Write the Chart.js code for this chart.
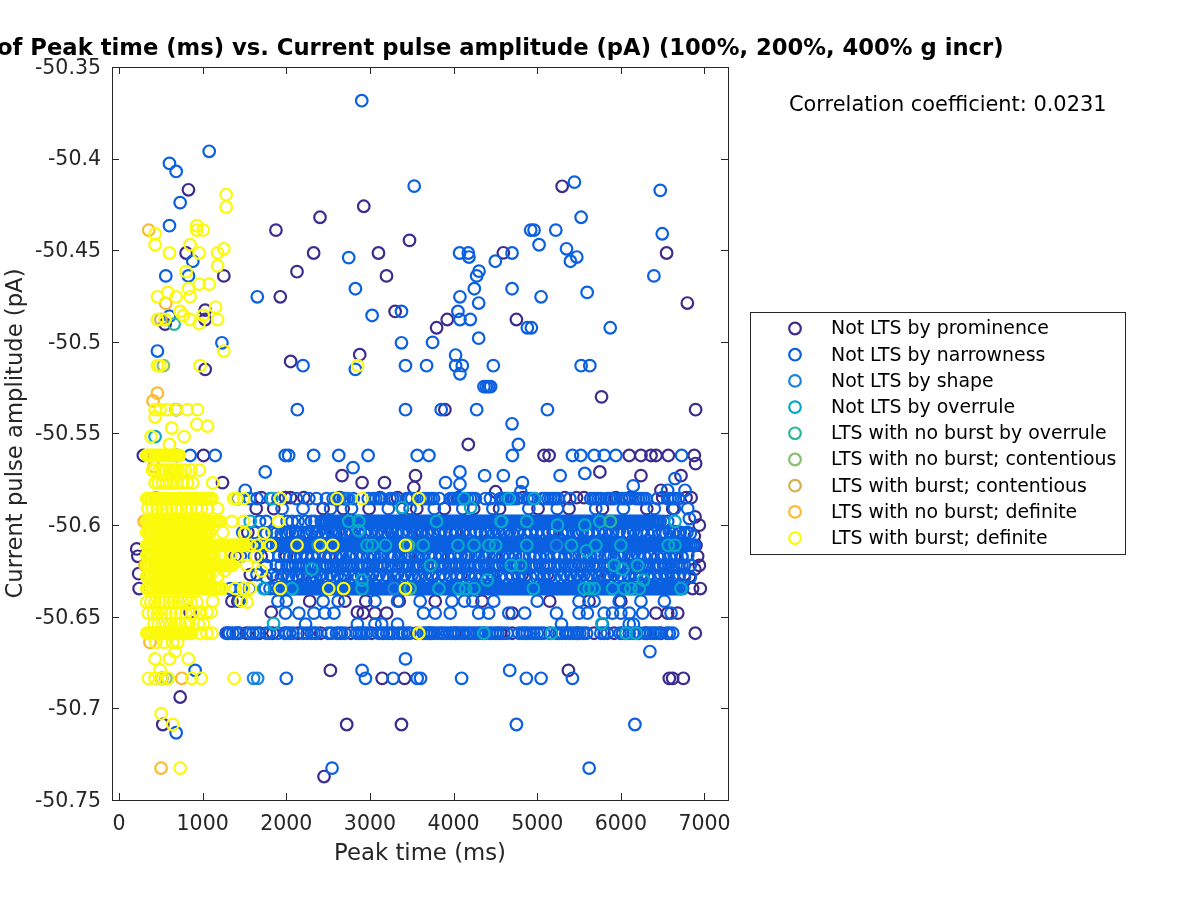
<!DOCTYPE html>
<html>
<head>
<meta charset="utf-8">
<title>Peak time vs. current pulse amplitude</title>
<script src="https://cdn.jsdelivr.net/npm/chart.js@4/dist/chart.umd.min.js"></script>
<style>
html, body { margin: 0; padding: 0; background: #fff; }
#wrap { width: 1200px; height: 900px; }
</style>
</head>
<body>
<div id="wrap"><canvas id="chart" width="1200" height="900"></canvas></div>
<script>
const titleText = 'of Peak time (ms) vs. Current pulse amplitude (pA) (100%, 200%, 400% g incr)';
const corrText = 'Correlation coefficient: 0.0231';
const xLabel = 'Peak time (ms)';
const yLabel = 'Current pulse amplitude (pA)';
const xTicks = [0, 1000, 2000, 3000, 4000, 5000, 6000, 7000];
const yTicks = [-50.75, -50.7, -50.65, -50.6, -50.55, -50.5, -50.45, -50.4, -50.35];

const seriesNames = [
    'Not LTS by prominence', 'Not LTS by narrowness', 'Not LTS by shape', 'Not LTS by overrule',
    'LTS with no burst by overrule', 'LTS with no burst; contentious', 'LTS with burst; contentious',
    'LTS with no burst; definite', 'LTS with burst; definite'
];
const seriesColors = [
    '#3d2c8e', '#0a60e0', '#1a84dc', '#08a8c8', '#2cb59c', '#86bf70', '#d4b050', '#fdb92f', '#fafa0a'
];

// ---- Not LTS by prominence ----
const promLoose = [
    [830,-50.417],[2926,-50.426],[2403,-50.432],[1876,-50.439],[3473,-50.4446],[2327,-50.4515],[802,-50.4515],
    [3102,-50.4515],[2128,-50.4617],[1253,-50.464],[3198,-50.464],[1928,-50.4754],[3301,-50.4834],[1030,-50.4827],
    [1030,-50.4878],[551,-50.4903],[2052,-50.5107],[2878,-50.507],[1030,-50.515],[683,-50.537],[5298,-50.4151],
    [4595,-50.4514],[6547,-50.4515],[6795,-50.4788],[4751,-50.4878],[3924,-50.4878],[3797,-50.4923],[5769,-50.53],
    [3896,-50.537],[6894,-50.537],[4176,-50.556],[2527,-50.6793],[731,-50.6938],[523,-50.7088],[2722,-50.7088],
    [3377,-50.7088],[2451,-50.7372],[5373,-50.6793],[6894,-50.5664],[2666,-50.573],[2906,-50.5768],[3174,-50.5768],
    [3545,-50.573],[1237,-50.5768],[3525,-50.5795],[5749,-50.571],[6240,-50.573],[6719,-50.573],[6479,-50.581],
    [4503,-50.5818],[6887,-50.5955],[6938,-50.6],[6878,-50.606],[6898,-50.611],[6918,-50.617],[6938,-50.622],
    [6950,-50.6346],[6858,-50.6346],[6820,-50.628],[6885,-50.624],[212,-50.613],[225,-50.617],[235,-50.6265],
    [240,-50.6346],[850,-50.6475],[1420,-50.6415],[1820,-50.6475],[2700,-50.6415],[2850,-50.6475]
];
const prom562 = [291,690,1010,5082,5142,6100,6240,6360,6420,6567,6878];
const prom585 = [1700,1990,2050,2210,2640,3120,3330,4060,4830,5330,5470,5560,5940,6110,6500,6780,6840];
const prom591 = [1640,1850,2440,2680,2990,3390,3560,3890,4240,4550,5010,5380,5780,6310,6620];
const prom604 = [1540,2110,2360,2590,2880,3260,3620,4020,4320,4780,5190,5610,5900,6250,6700];
const prom617 = [1390,1700,2000,2240,2510,2770,3120,3470,3840,4150,4490,4910,5260,5580,5990,6350,6640];
const prom627 = [1570,1840,2190,2420,2690,3030,3330,3740,4090,4460,4820,5120,5480,5850,6170,6530,6760];
const prom641 = [1350,2280,2950,3350,3780,4340,5150,5620,6000];
const prom648 = [2920,3060,3200,4700,6420,6560,6680];
const prom659 = [1300,1420,1520,1680,1840,2140,2410,2770,3020,3280,3560,3720,4020,4560,4700,5150,5480,5680,5920,6300,6480,6890];
const prom684 = [511,3146,3413,6579,6619,6747];

// ---- Not LTS by narrowness ----
const narrowLoose = [
    [2902,-50.3684],[1078,-50.396],[603,-50.4026],[683,-50.407],[731,-50.424],[603,-50.4366],[3529,-50.415],
    [2746,-50.454],[882,-50.456],[559,-50.464],[830,-50.464],[2826,-50.471],[1653,-50.4754],[3026,-50.4856],
    [3377,-50.4834],[3377,-50.5005],[1230,-50.5005],[459,-50.505],[2200,-50.513],[3425,-50.513],[2826,-50.515],
    [2132,-50.537],[3425,-50.537],[603,-50.486],[5445,-50.4128],[6471,-50.4173],[5525,-50.432],[4962,-50.439],
    [4922,-50.439],[5222,-50.439],[6495,-50.441],[5022,-50.447],[5350,-50.4492],[5473,-50.4537],[5397,-50.456],
    [4072,-50.4515],[4176,-50.4515],[4184,-50.4537],[4699,-50.4515],[4499,-50.456],[4304,-50.4614],[4276,-50.464],
    [6395,-50.464],[4248,-50.471],[4699,-50.471],[4076,-50.4754],[5046,-50.4754],[5597,-50.473],[4300,-50.4788],
    [4052,-50.4834],[4076,-50.4878],[4200,-50.4878],[4882,-50.4923],[4930,-50.4923],[5873,-50.4923],[3749,-50.5003],
    [4300,-50.498],[4024,-50.5072],[3677,-50.513],[4024,-50.513],[4104,-50.513],[4475,-50.513],[5525,-50.513],
    [5629,-50.513],[4076,-50.5174],[4363,-50.5244],[4391,-50.5244],[4419,-50.5244],[4443,-50.5244],[3852,-50.537],
    [4276,-50.537],[5122,-50.537],[4699,-50.5447],[4775,-50.556],[3425,-50.673],[2906,-50.6793],[910,-50.6793],
    [683,-50.7133],[2547,-50.7326],[6347,-50.669],[4671,-50.6793],[4751,-50.7088],[6168,-50.7088],[5621,-50.7326],
    [1748,-50.571],[2798,-50.5686],[1509,-50.581],[4076,-50.571],[3904,-50.5768],[4076,-50.5777],[4371,-50.573],
    [4595,-50.573],[4823,-50.5768],[5274,-50.573],[5569,-50.5718],[6148,-50.5786],[6647,-50.5746],[6559,-50.581],
    [6767,-50.581],[4803,-50.5818],[6819,-50.5964]
];
const narrow562 = [850,1150,1988,2028,2327,2627,2978,3565,3705,4703,5421,5521,5681,5801,5940,6727];
const narrow585 = [1420,1560,1650,1810,1900,2120,2270,2360,2480,2560,2610,2680,2730,2800,2980,3040,3110,3240,3300,3440,3500,3640,3700,3760,3830,3960,4010,4070,4130,4200,4260,4380,4440,4560,4620,4690,4760,4880,4940,5060,5130,5190,5250,5390,5640,5700,5760,5830,5890,6010,6070,6180,6240,6300,6440,6560,6620,6690];
const narrow585b = [2590,2640,2700,3070,3140,3270,3470,3670,3730,3990,4040,4100,4165,4230,4590,4650,4720,4910,4970,5090,5160,5220,5670,5730,5860,5920,6040,6100,6210,6270,6590,6650];
const narrow591 = [1950,2200,2530,2780,3220,3480,3770,4110,4470,4900,5240,5700,6030,6400,6640,6800];
// dense x positions shared by the solid bands
const narrowCore = [1905,1930,1952,1978,2003,2026,2050,2077,2100,2124,2150,2173,2199,2224,2246,2272,2298,2320,2346,2370,2395,2418,2444,2468,2490,2517,2541,2565,2592,2614,2640,2663,2688,2714,2736,2762,2786,2810,2835,2860,2882,2908,2932,2956,2982,3005,3030,3054,3078,3103,3126,3152,3176,3200,3226,3248,3274,3298,3322,3347,3370,3396,3420,3444,3470,3492,3518,3542,3566,3591,3614,3640,3664,3688,3713,3736,3762,3786,3810,3835,3858,3884,3908,3932,3957,3980,4006,4030,4054,4079,4102,4128,4152,4176,4201,4224,4250,4274,4298,4323,4346,4372,4396,4420,4445,4468,4494,4518,4542,4567,4590,4616,4640,4664,4689,4712,4738,4762,4786,4811,4834,4860,4884,4908,4933,4956,4982,5006,5030,5055,5078,5104,5128,5152,5177,5200,5226,5250,5274,5299,5322,5348,5372,5396,5421,5444,5470,5494,5518,5543,5566,5592,5616,5640,5665,5688,5714,5738,5762,5787,5810,5836,5860,5884,5909,5932,5958,5982,6006,6031,6054,6080,6104,6128,6153,6176,6202,6226,6250,6275,6298,6324,6348,6372,6397,6420,6446,6470,6494,6519,6542,6568,6592,6616,6641,6664,6690,6714,6738,6763,6786,6812,6836,6860,6880];
const narrow598 = [1680,1760,2010,2070,2140,2230,2300,2340,6510,6560];
const narrow604 = [1480,1620,1830,1990,2240,2470,2700,2950,3180,3400,3560,3700,3960,4200,4380,4600,4850,5070,5300,5470,5660,5820,6080,6320,6500,6710,6790];
const narrow604b = [2040,2120,2310,2390,2540,2620,2770,2860,3020,3100,3250,3330,3470,3630,3770,3850,3900,4040,4120,4270,4450,4530,4670,4760,4920,5000,5140,5220,5370,5540,5600,5730,5900,5980,6150,6240,6400,6580,6650];
const narrow611 = [1540,1610,1700,1755,1835,1885];
const narrow617 = [1450,1620,1780,1910,2090,2310,2590,2840,3060,3290,3540,3780,3930,4260,4580,4840,5040,5340,5640,5810,6120,6440,6730];
const narrow617b = [1980,2170,2240,2390,2470,2660,2760,2920,3000,3140,3220,3370,3450,3620,3700,3860,4010,4090,4180,4340,4420,4510,4650,4740,4910,4980,5120,5200,5270,5420,5500,5570,5720,5880,5960,6040,6200,6280,6360,6520,6600,6670,6800];
const narrow622 = [1760,1880,1940,2010,2070,2150,2210,2280,2350,2430,2490,2560,2640,2710,2790,2860,2930,3000,3080,3150,3220,3310,3380,3450,3530,3600,3680,3750,3820,3900,3970,4040,4110,4190,4260,4330,4410,4480,4550,4630,4700,4770,4850,4920,4990,5070,5140,5210,5290,5360,5440,5510,5590,5660,5740,5810,5880,5960,6030,6100,6180,6250,6320,6400,6470,6540,6620,6690,6760,6830];
const narrow622b = [2040,2110,2180,2250,2320,2460,2530,2600,2680,2750,2900,2970,3040,3120,3260,3340,3420,3570,3640,3720,3860,3940,4010,4080,4160,4300,4370,4520,4590,4670,4740,4820,4960,5030,5110,5250,5330,5400,5550,5620,5700,5850,5920,5990,6140,6220,6290,6440,6510,6580,6660,6730];
const narrow627 = [1650,1960,2250,2530,2820,3110,3420,3660,3880,4180,4400,4700,5000,5320,5560,5920,6240,6480,6700];
const narrow627b = [2030,2120,2320,2400,2610,2700,2900,2980,3200,3290,3500,3580,3740,3960,4040,4260,4340,4480,4570,4780,4860,5080,5160,5400,5480,5640,5740,5830,6000,6090,6320,6400,6560,6630];
const narrow635 = [1330,1460,1560,1750,1805,1860];
const narrow641 = [1440,1900,2000,2440,2620,3060,3330,3600,3980,4130,4230,4480,5000,5500,5680,5980,6240,6520];
const narrow648 = [1990,2150,2330,2460,2570,3640,3780,3960,4300,4420,4660,4850,5230,5500,5600,5800,5900,6000,6100,6260,6600];
const narrow654 = [2230,2850,3060,3140,3330,5290,5780,6100,6150];
const narrow659 = [1280,1360,1440,1560,1640,1760,1900,1980,2040,2200,2300,2360,2500,2600,2660,2840,2900,2960,3100,3160,3230,3340,3410,3480,3640,3700,3770,3850,3920,3990,4060,4130,4200,4280,4340,4430,4500,4600,4780,4850,4920,5000,5080,5230,5300,5370,5440,5510,5590,5760,5840,5990,6060,6150,6220,6280,6360,6420,6550,6620];
const narrow659b = [1320,1400,1600,1800,2000,2080,2250,2330,2540,2630,2700,2870,2930,3130,3200,3270,3380,3450,3670,3740,3810,3880,3960,4030,4100,4170,4240,4310,4380,4460,4530,4640,4820,4880,4960,5040,5260,5340,5400,5480,5550,5800,6020,6100,6190,6320,6390,6460,6580];
const narrow684 = [2000,2946,3277,3565,3605,4096,4870,5046,5421];

// ---- Not LTS by shape ----
const shapeLoose = [[1609,-50.6836],[1657,-50.6836],[4560,-50.598],[3290,-50.6346],[5230,-50.611],[2750,-50.5855],[2380,-50.611]];

// ---- Not LTS by overrule ----
const overruleLoose = [
    [431,-50.5517],[3385,-50.5904],[1828,-50.5855],[2746,-50.598],[2866,-50.598],[2866,-50.603],[1729,-50.6346],
    [2068,-50.6346],[2906,-50.6346],[2906,-50.63],[2307,-50.624],[1848,-50.6537],[2966,-50.611],[3026,-50.611],
    [3186,-50.611],[1569,-50.598],[4124,-50.5855],[4204,-50.5904],[4663,-50.5855],[4962,-50.5855],[3797,-50.598],
    [4575,-50.598],[4875,-50.598],[5242,-50.6],[5569,-50.6],[5749,-50.598],[6647,-50.598],[3637,-50.611],
    [4052,-50.611],[4244,-50.611],[4423,-50.611],[4503,-50.611],[4875,-50.611],[5409,-50.611],[5589,-50.614],
    [5701,-50.611],[6000,-50.611],[6567,-50.611],[6647,-50.611],[3725,-50.622],[4691,-50.622],[4803,-50.622],
    [5920,-50.622],[6020,-50.624],[6200,-50.622],[3825,-50.6346],[4064,-50.6346],[4144,-50.6346],[4244,-50.6346],
    [4954,-50.6346],[5561,-50.6346],[5621,-50.6346],[5681,-50.6346],[5900,-50.6346],[6040,-50.6346],[6120,-50.6346],
    [6220,-50.6346],[6719,-50.6346],[4403,-50.63],[6272,-50.63],[4363,-50.659],[5170,-50.659],[6060,-50.659],[6180,-50.659],[5773,-50.6537]
];

// ---- LTS with no burst by overrule, contentious ----
const noBurstOverruleLoose = [[659,-50.4903],[5873,-50.598],[3460,-50.611],[3480,-50.6346],[450,-50.622]];
const noBurstContentiousLoose = [[531,-50.513],[440,-50.585],[560,-50.6836]];
const burstContentiousLoose = [[500,-50.4878],[380,-50.604],[690,-50.62]];

// ---- LTS with no burst; definite ----
const noBurstDefiniteLoose = [
    [355,-50.439],[559,-50.479],[459,-50.528],[407,-50.5322],[503,-50.7326],[750,-50.6836],[370,-50.664],
    [300,-50.598],[310,-50.622],[1810,-50.611],[420,-50.568]
];

// ---- LTS with burst; definite ----
const burstLoose = [
    [1281,-50.4197],[1281,-50.4264],[930,-50.4366],[930,-50.439],[1006,-50.439],[431,-50.441],[431,-50.447],
    [850,-50.447],[1253,-50.4492],[1178,-50.4514],[603,-50.4515],[958,-50.4515],[1178,-50.4585],[802,-50.4617],
    [958,-50.4685],[1078,-50.4685],[830,-50.471],[583,-50.473],[683,-50.4754],[459,-50.4754],[850,-50.4754],
    [731,-50.4834],[1154,-50.481],[770,-50.4856],[850,-50.4878],[459,-50.4878],[551,-50.4878],[1178,-50.4878],
    [958,-50.49],[1006,-50.4856],[1253,-50.505],[459,-50.513],[491,-50.513],[970,-50.513],[2854,-50.513],
    [431,-50.537],[491,-50.537],[571,-50.537],[683,-50.537],[818,-50.537],[938,-50.537],[431,-50.541],
    [631,-50.547],[930,-50.545],[1058,-50.546],[778,-50.5517],[383,-50.5517],[603,-50.556],[503,-50.7029],
    [643,-50.7088],[731,-50.7326],[830,-50.673],[431,-50.673],[603,-50.673],[671,-50.669],[491,-50.679],
    [1648,-50.611],[1808,-50.611],[1500,-50.6045],[1730,-50.6045],[1529,-50.622],[1640,-50.617],[1700,-50.625],
    [1460,-50.6415],[1100,-50.6475],[1050,-50.6475],[970,-50.6475],[1240,-50.604],[1330,-50.6165],[1180,-50.628],
    [1260,-50.625],[1410,-50.617],[1220,-50.6165],[1120,-50.6415]
];
// dense x positions shared by the solid yellow bands
const burstCore = [332,356,381,404,430,453,478,503,526,552,575,600,624,648,673,696,722,745,770,795,818,844,867,892,916,940,965,988,1014,1037,1062,1087,1110,1136,1159,1184,1208,1232,1257,1280,1306,1329,1354,1379,1402,1428,1451,1476,1500];
const burst570 = [400,480,560,640,700,790,860,960,430,520,600,670,750];
const burst577 = [430,520,610,690,760,880,1120,470,570,650,820];
const burst585 = [1370,1410,1490,1928,2607,2906,3585];
const burst591 = [345,400,455,515,570,625,690,745,805,860,925,985,1060,1180];
const burst598 = [1350,1490,1908];
const burst611 = [1570,2128,2407,2555,3425];
const burst635 = [1389,1489,1569,1928,2507,2686,3425];
const burst642 = [330,430,540,650,760,860,1530,380,490,600,710,810,930];
const burst648 = [350,460,560,680,800,880,410,510,620,740,960];
const burst654 = [420,520,620,730,840,950,470,570,680,790,1010];
const burst659 = [970,1050,1110,3585];
const burst664 = [440,540,640,700];
const burst684 = [351,431,511,590,870,982,1377];

const row = (y, xs) => xs.map(x => ({ x, y }));
const pairs = list => list.map(([x, y]) => ({ x, y }));
const span = (xs, from, to) => xs.filter(x => x >= from && x <= to);

const seriesPoints = [
    [...pairs(promLoose), ...row(-50.562, prom562), ...row(-50.585, prom585), ...row(-50.591, prom591), ...row(-50.604, prom604),
        ...row(-50.617, prom617), ...row(-50.627, prom627), ...row(-50.6415, prom641), ...row(-50.648, prom648),
        ...row(-50.659, prom659), ...row(-50.6836, prom684)],
    [...pairs(narrowLoose), ...row(-50.562, narrow562), ...row(-50.5855, narrow585), ...row(-50.5855, narrow585b), ...row(-50.591, narrow591),
        ...row(-50.598, narrow598), ...row(-50.598, span(narrowCore, 2400, 6480)),
        ...row(-50.604, narrow604), ...row(-50.6035, narrow604b), ...row(-50.6045, narrow622),
        ...row(-50.611, narrow611), ...row(-50.611, span(narrowCore, 1905, 6880)),
        ...row(-50.617, narrow617), ...row(-50.6165, narrow617b), ...row(-50.6175, narrow622b), ...row(-50.622, narrow622), ...row(-50.622, narrow622b),
        ...row(-50.627, narrow627), ...row(-50.6275, narrow627b), ...row(-50.6285, narrow622),
        ...row(-50.6346, narrow635), ...row(-50.6346, span(narrowCore, 1905, 6760)),
        ...row(-50.6415, narrow641), ...row(-50.648, narrow648), ...row(-50.654, narrow654),
        ...row(-50.659, narrow659), ...row(-50.659, narrow659b), ...row(-50.6836, narrow684)],
    pairs(shapeLoose),
    pairs(overruleLoose),
    pairs(noBurstOverruleLoose),
    pairs(noBurstContentiousLoose),
    pairs(burstContentiousLoose),
    pairs(noBurstDefiniteLoose),
    [...pairs(burstLoose), ...row(-50.562, span(burstCore, 330, 730)), ...row(-50.57, burst570), ...row(-50.577, burst577),
        ...row(-50.5855, span(burstCore, 330, 1130)), ...row(-50.5855, burst585), ...row(-50.591, burst591),
        ...row(-50.598, span(burstCore, 330, 1210)), ...row(-50.598, burst598), ...row(-50.604, span(burstCore, 330, 1090)),
        ...row(-50.611, span(burstCore, 330, 1500)), ...row(-50.611, burst611), ...row(-50.6165, span(burstCore, 330, 1150)),
        ...row(-50.622, span(burstCore, 330, 1370)), ...row(-50.628, span(burstCore, 330, 1100)),
        ...row(-50.6346, span(burstCore, 330, 1250)), ...row(-50.6346, burst635),
        ...row(-50.642, burst642), ...row(-50.648, burst648), ...row(-50.654, burst654),
        ...row(-50.659, span(burstCore, 330, 890)), ...row(-50.659, burst659),
        ...row(-50.664, burst664), ...row(-50.6836, burst684)]
];

const FONT = '"DejaVu Sans", sans-serif';
const INK = '#262626';

// Frame, inward ticks, title, correlation note and boxed legend (MATLAB look).
const decorations = {
    id: 'decorations',
    afterDraw(chart) {
        const { ctx, chartArea: a, scales } = chart;
        ctx.save();
        ctx.strokeStyle = INK;
        ctx.lineWidth = 1;
        ctx.strokeRect(a.left + 0.5, a.top + 0.5, a.right - a.left, a.bottom - a.top);
        ctx.beginPath();
        for (const v of xTicks) {
            const p = Math.round(scales.x.getPixelForValue(v)) + 0.5;
            ctx.moveTo(p, a.top); ctx.lineTo(p, a.top + 7);
            ctx.moveTo(p, a.bottom); ctx.lineTo(p, a.bottom - 7);
        }
        for (const v of yTicks) {
            const p = Math.round(scales.y.getPixelForValue(v)) + 0.5;
            ctx.moveTo(a.left, p); ctx.lineTo(a.left + 7, p);
            ctx.moveTo(a.right, p); ctx.lineTo(a.right - 7, p);
        }
        ctx.stroke();

        ctx.fillStyle = '#000';
        ctx.textBaseline = 'alphabetic';
        ctx.font = 'bold 22.7px ' + FONT;
        ctx.fillText(titleText, -3, 55);
        ctx.font = '20.9px ' + FONT;
        ctx.fillText(corrText, 789, 111);

        ctx.fillStyle = '#fff';
        ctx.fillRect(750.5, 312.5, 375, 242);
        ctx.strokeStyle = '#262626';
        ctx.strokeRect(750.5, 312.5, 375, 242);
        ctx.font = '18.9px ' + FONT;
        ctx.textBaseline = 'middle';
        seriesNames.forEach((name, i) => {
            const y = 328.5 + i * 26.2;
            ctx.beginPath();
            ctx.arc(795, y, 5.8, 0, Math.PI * 2);
            ctx.lineWidth = 2.2;
            ctx.strokeStyle = seriesColors[i];
            ctx.stroke();
            ctx.fillStyle = '#000';
            ctx.fillText(name, 831, y + 1);
        });
        ctx.restore();
    }
};

new Chart(document.getElementById('chart'), {
    type: 'scatter',
    data: {
        datasets: seriesNames.map((name, i) => ({
            label: name,
            data: seriesPoints[i],
            order: seriesNames.length - i,
            showLine: false,
            pointStyle: 'circle',
            pointRadius: 5.8,
            pointBorderWidth: 2.2,
            pointBackgroundColor: 'rgba(0,0,0,0)',
            pointBorderColor: seriesColors[i]
        }))
    },
    options: {
        responsive: false,
        animation: false,
        layout: { padding: { left: 0, top: 67, right: 472, bottom: 0 } },
        plugins: { legend: { display: false }, tooltip: { enabled: false } },
        scales: {
            x: {
                type: 'linear',
                min: -84,
                max: 7281,
                afterBuildTicks: s => { s.ticks = xTicks.map(value => ({ value })); },
                afterFit: s => { s.height = 100; },
                grid: { display: false },
                border: { display: false },
                ticks: { color: INK, font: { family: FONT, size: 20.5 }, padding: 4, maxRotation: 0, callback: v => String(v) },
                title: { display: true, text: xLabel, color: INK, font: { family: FONT, size: 22.8 }, padding: { top: 3, bottom: 32 } }
            },
            y: {
                type: 'linear',
                min: -50.75,
                max: -50.35,
                afterBuildTicks: s => { s.ticks = yTicks.map(value => ({ value })); },
                afterFit: s => { s.width = 112; },
                grid: { display: false },
                border: { display: false },
                ticks: {
                    color: INK,
                    font: { family: FONT, size: 20.5 },
                    padding: 3,
                    labelOffset: 1.5,
                    callback: v => String(Number(v.toFixed(2)))
                },
                title: { display: true, text: yLabel, color: INK, font: { family: FONT, size: 22.7 }, padding: { top: 2, bottom: 0 } }
            }
        }
    },
    plugins: [decorations]
});
</script>
</body>
</html>
